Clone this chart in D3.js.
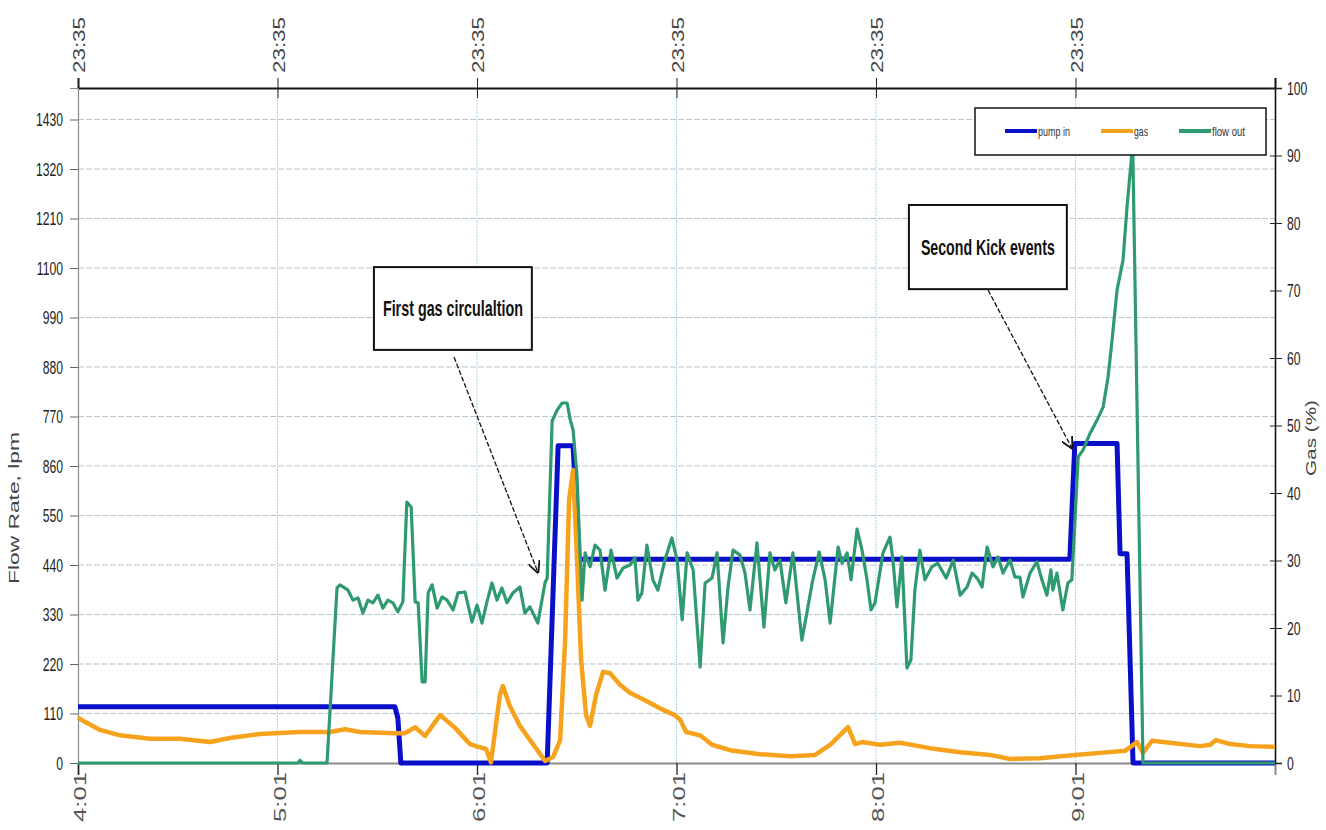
<!DOCTYPE html>
<html>
<head>
<meta charset="utf-8">
<script src="https://cdn.jsdelivr.net/npm/d3@7"></script>
<style>
  body { margin: 0; background: #fff; }
  svg { display: block; font-family: "Liberation Sans", Arial, sans-serif; }
</style>
</head>
<body>
<svg id="chart" width="1326" height="830"></svg>
<script>
// time is minutes after 4:01
const hourTicks = [0, 60, 120, 180, 240, 300];
const bottomLabels = ["4:01", "5:01", "6:01", "7:01", "8:01", "9:01"];
const topLabels = ["23:35", "23:35", "23:35", "23:35", "23:35", "23:35"];

const flowTicks = [0, 110, 220, 330, 440, 550, 660, 770, 880, 990, 1100, 1210, 1320, 1430];
const flowTickLabels = ["0", "110", "220", "330", "440", "550", "860", "770", "880", "990", "1100", "1210", "1320", "1430"];
const gasTicks = [0, 10, 20, 30, 40, 50, 60, 70, 80, 90, 100];

// pump in, lpm
const pumpT = [0, 95.3, 96.2, 97.1, 141.1, 144.4, 148.9, 150.7, 298.3, 299.8, 312.5, 313.4, 315.5, 317.3, 360];
const pumpV = [125, 125, 100, 0, 0, 705, 705, 453, 453, 710, 710, 465, 465, 0, 0];

// flow out, lpm
const flowT = [0, 66, 66.8, 67.6, 74.9, 77.9, 78.8, 81.2, 82.7, 84.2, 85.7, 87.2, 88.7, 90.2, 91.7, 93.2, 94.7,
  96.2, 97.7, 98.9, 100.2, 101.4, 102.3, 103.5, 104.4, 105.3, 106.5, 108.0, 109.5, 111.0, 112.8, 114.3, 116.4,
  118.5, 120.0, 121.5, 123.0, 124.5, 126.0, 127.5, 129.0, 130.8, 132.9, 134.4, 135.9, 138.3, 140.5, 141.1, 142.6,
  144.1, 145.6, 147.1, 148.0, 148.9, 150.1, 151.0, 151.6, 152.5, 154.0, 155.5, 157.0, 158.5, 160.3, 162.1, 163.9,
  166.0, 167.5, 168.4, 169.6, 171.1, 172.9, 174.4, 176.5, 178.6, 180.2, 181.7, 183.2, 185.0, 187.1, 188.6, 190.7,
  192.2, 194.0, 195.5, 197.0, 199.1, 200.6, 202.1, 204.2, 206.3, 208.1, 209.6, 211.1, 212.9, 215.0, 217.7, 219.2,
  220.8, 222.9, 224.7, 226.2, 228.6, 229.8, 231.3, 232.5, 234.3, 235.8, 237.3, 238.5, 239.7, 242.1, 244.2, 245.1,
  246.3, 247.8, 249.3, 250.5, 251.7, 253.2, 254.7, 256.8, 258.6, 261.1, 263.2, 265.3, 267.4, 268.9, 270.4, 271.9,
  273.4, 275.2, 276.7, 278.2, 280.3, 281.8, 283.3, 284.2, 286.3, 288.4, 289.9, 291.4, 292.6, 293.2, 294.4, 296.2,
  297.7, 298.9, 299.8, 300.8, 302.3, 304.4, 306.5, 308.3, 309.8, 311.0, 312.5, 314.3, 315.5, 317.2, 320.3, 360];
const flowV = [0, 0, 6, 0, 0, 389, 396, 384, 362, 367, 333, 362, 356, 373, 344, 362, 356,
  336, 358, 580, 569, 358, 356, 180, 180, 378, 396, 344, 369, 362, 340, 378, 380,
  313, 351, 311, 358, 400, 362, 389, 356, 378, 391, 333, 347, 311, 402, 410, 760,
  784, 800, 800, 764, 740, 636, 469, 362, 467, 436, 484, 473, 384, 473, 411, 433,
  440, 456, 362, 378, 484, 407, 384, 451, 500, 451, 318, 467, 429, 213, 400, 411,
  467, 267, 391, 473, 462, 422, 340, 489, 302, 467, 429, 451, 356, 467, 273, 333,
  400, 469, 407, 311, 480, 444, 467, 407, 520, 473, 407, 340, 356, 467, 502, 451,
  347, 458, 211, 229, 384, 473, 407, 436, 444, 411, 451, 373, 391, 422, 411, 391,
  480, 436, 458, 422, 451, 413, 413, 369, 422, 447, 407, 373, 429, 384, 422, 340,
  400, 407, 533, 680, 696, 733, 762, 791, 858, 940, 1051, 1118, 1236, 1375, 0, 0];

// gas, %
const gasT = [0, 2.1, 6.6, 12.6, 21.7, 30.7, 39.7, 45.7, 54.7, 66.8, 75.8, 80.3, 84.8, 95.3, 98.3, 101.4, 104.4,
  108.9, 113.4, 117.9, 120.3, 122.7, 124.2, 126.9, 127.8, 129.9, 132.9, 137.4, 140.5, 142.9, 145.0, 146.5, 147.7,
  148.9, 150.1, 151.3, 152.8, 154.0, 155.8, 157.9, 160.0, 163.0, 166.0, 170.5, 175.0, 179.5, 181.1, 182.9, 187.1,
  190.7, 196.1, 205.1, 214.1, 221.7, 226.2, 231.6, 233.7, 235.8, 241.2, 247.2, 256.2, 265.3, 274.3, 280.3, 289.3,
  299.8, 307.4, 314.9, 318.5, 320.3, 323.0, 328.4, 337.4, 340.5, 342.3, 346.5, 352.5, 360];
const gasV = [6.7, 6.1, 4.9, 4.1, 3.6, 3.6, 3.1, 3.7, 4.3, 4.6, 4.6, 5.0, 4.6, 4.4, 4.4, 5.3, 4.0,
  7.1, 5.2, 2.8, 2.4, 2.1, 0.1, 10.1, 11.4, 8.4, 5.5, 2.4, 0.3, 0.9, 3.4, 18.2, 39.0,
  43.4, 30.1, 15.3, 7.1, 5.5, 10.1, 13.5, 13.3, 11.6, 10.4, 9.3, 8.1, 7.1, 6.4, 4.6, 4.1,
  2.7, 1.9, 1.3, 1.0, 1.2, 2.7, 5.3, 2.8, 3.1, 2.7, 3.0, 2.2, 1.6, 1.2, 0.6, 0.7,
  1.2, 1.5, 1.8, 3.1, 1.5, 3.3, 3.0, 2.5, 2.7, 3.4, 2.8, 2.5, 2.4];

const seriesNames = ["pump in", "gas", "flow out"];
const seriesColors = ["#0a0fc8", "#f7a21c", "#2f9a6f"];

// annotations in data units (minutes, lpm)
const notes = [
  { text: "First gas circulaltion", box: [89.0, 136.5, 1102, 918], from: [113.1, 902], to: [138.3, 424], len: 140 },
  { text: "Second Kick events", box: [249.9, 297.4, 1240, 1053], from: [273.7, 1051], to: [298.9, 700], len: 134 }
];

const svg = d3.select("#chart");
const margin = { top: 88, right: 51, bottom: 67, left: 78 };
const width = 1326 - margin.left - margin.right;
const height = 830 - margin.top - margin.bottom;

const x = d3.scaleLinear().domain([0, 360]).range([0, width]);
const yL = d3.scaleLinear().domain([0, 1500]).range([height, 0]);
const yR = d3.scaleLinear().domain([0, 100]).range([height, 0]);

// squeeze text horizontally, like a narrow font
function condense(sel, k) {
  sel.each(function () {
    const t = d3.select(this);
    t.attr("x", (+t.attr("x") || 0) / k).attr("transform", "scale(" + k + ",1)");
  });
}

const g = svg.append("g").attr("transform", "translate(" + margin.left + "," + margin.top + ")");

// grid
g.append("g")
  .selectAll("line")
  .data(flowTicks.slice(1))
  .join("line")
  .attr("x1", 0).attr("x2", width)
  .attr("y1", d => yL(d)).attr("y2", d => yL(d))
  .attr("stroke", "#b8c6d2")
  .attr("stroke-width", 1.2)
  .attr("stroke-dasharray", "6,2");

g.append("g")
  .selectAll("line")
  .data(hourTicks.slice(1))
  .join("line")
  .attr("x1", d => x(d)).attr("x2", d => x(d))
  .attr("y1", 0).attr("y2", height)
  .attr("stroke", "#a9d6ee")
  .attr("stroke-width", 1)
  .attr("stroke-dasharray", "2,1");

// axes
const bottomAxis = g.append("g")
  .attr("transform", "translate(0," + height + ")")
  .call(d3.axisBottom(x).tickValues(hourTicks).tickSize(12).tickFormat((d, i) => bottomLabels[i]));
bottomAxis.select(".domain").attr("stroke", "#8a8a8a").attr("stroke-width", 2);
bottomAxis.selectAll(".tick line").attr("stroke", "#222").attr("stroke-width", 1.3);
bottomAxis.selectAll(".tick text")
  .attr("transform", "rotate(-90)")
  .attr("text-anchor", "end")
  .attr("x", -9).attr("y", 2).attr("dy", "0.35em")
  .attr("fill", "#555")
  .attr("textLength", 50)
  .attr("lengthAdjust", "spacingAndGlyphs")
  .style("font-size", "16px");

const topAxis = g.append("g")
  .call(d3.axisTop(x).tickValues(hourTicks).tickSize(10).tickFormat((d, i) => topLabels[i]));
topAxis.select(".domain").attr("stroke", "#111").attr("stroke-width", 2);
topAxis.selectAll(".tick line").attr("y2", -10).attr("y1", 10).attr("stroke", "#222");
topAxis.selectAll(".tick text")
  .attr("transform", "rotate(-90)")
  .attr("text-anchor", "start")
  .attr("x", 15).attr("y", 1).attr("dy", "0.35em")
  .attr("fill", "#444")
  .attr("textLength", 56)
  .attr("lengthAdjust", "spacingAndGlyphs")
  .style("font-size", "16px");

const leftAxis = g.append("g")
  .call(d3.axisLeft(yL).tickValues(flowTicks).tickSize(8).tickPadding(7).tickFormat((d, i) => flowTickLabels[i]));
leftAxis.select(".domain").attr("stroke", "#8a8a8a").attr("stroke-width", 1.2);
leftAxis.selectAll(".tick line").attr("stroke", "#666");
leftAxis.selectAll(".tick text")
  .attr("fill", "#222")
  .style("font-size", "19px")
  .call(condense, 0.64);

const rightAxis = g.append("g")
  .attr("transform", "translate(" + width + ",0)")
  .call(d3.axisRight(yR).tickValues(gasTicks).tickSize(7).tickPadding(5));
rightAxis.select(".domain").attr("stroke", "#111").attr("stroke-width", 1.6);
rightAxis.selectAll(".tick line").attr("x1", -5).attr("stroke", "#222");
rightAxis.selectAll(".tick text")
  .attr("fill", "#222")
  .style("font-size", "19px")
  .call(condense, 0.64);

// axis titles
svg.append("text")
  .attr("transform", "translate(19," + (margin.top + 420) + ") rotate(-90)")
  .attr("text-anchor", "middle")
  .attr("textLength", 152)
  .attr("lengthAdjust", "spacingAndGlyphs")
  .style("font-size", "15px")
  .attr("fill", "#444")
  .text("Flow Rate, lpm");

svg.append("text")
  .attr("transform", "translate(1316," + (margin.top + 350) + ") rotate(-90)")
  .attr("text-anchor", "middle")
  .attr("textLength", 76)
  .attr("lengthAdjust", "spacingAndGlyphs")
  .style("font-size", "15px")
  .attr("fill", "#444")
  .text("Gas (%)");

// series
const zip = (ts, vs) => ts.map((t, i) => [t, vs[i]]);
const lineL = d3.line().x(d => x(d[0])).y(d => yL(d[1]));
const lineR = d3.line().x(d => x(d[0])).y(d => yR(d[1]));

g.append("path")
  .datum(zip(pumpT, pumpV))
  .attr("fill", "none")
  .attr("stroke", seriesColors[0])
  .attr("stroke-width", 5)
  .attr("stroke-linejoin", "round")
  .attr("d", lineL);

g.append("path")
  .datum(zip(gasT, gasV))
  .attr("fill", "none")
  .attr("stroke", seriesColors[1])
  .attr("stroke-width", 4.5)
  .attr("stroke-linejoin", "round")
  .attr("d", lineR);

g.append("path")
  .datum(zip(flowT, flowV))
  .attr("fill", "none")
  .attr("stroke", seriesColors[2])
  .attr("stroke-width", 3.2)
  .attr("stroke-linejoin", "round")
  .attr("d", lineL);

// annotations
svg.append("defs").append("marker")
  .attr("id", "arrow")
  .attr("viewBox", "0 0 10 10")
  .attr("refX", 9).attr("refY", 5)
  .attr("markerWidth", 12).attr("markerHeight", 12)
  .attr("markerUnits", "userSpaceOnUse")
  .attr("orient", "auto")
  .append("path")
  .attr("d", "M0,0 L10,5 L0,10")
  .attr("fill", "none")
  .attr("stroke", "#111")
  .attr("stroke-width", 1.5);

const note = g.selectAll(".note").data(notes).join("g").attr("class", "note");
note.append("line")
  .attr("x1", d => x(d.from[0])).attr("y1", d => yL(d.from[1]))
  .attr("x2", d => x(d.to[0])).attr("y2", d => yL(d.to[1]))
  .attr("stroke", "#111")
  .attr("stroke-width", 1.3)
  .attr("stroke-dasharray", "5,2")
  .attr("marker-end", "url(#arrow)");
note.append("rect")
  .attr("x", d => x(d.box[0])).attr("y", d => yL(d.box[2]))
  .attr("width", d => x(d.box[1]) - x(d.box[0]))
  .attr("height", d => yL(d.box[3]) - yL(d.box[2]))
  .attr("fill", "#fff")
  .attr("stroke", "#111")
  .attr("stroke-width", 2);
note.append("text")
  .attr("x", d => (x(d.box[0]) + x(d.box[1])) / 2)
  .attr("y", d => (yL(d.box[2]) + yL(d.box[3])) / 2)
  .attr("dy", "0.35em")
  .attr("text-anchor", "middle")
  .attr("textLength", d => d.len)
  .attr("lengthAdjust", "spacingAndGlyphs")
  .style("font-size", "22px")
  .style("font-weight", "bold")
  .attr("fill", "#111")
  .text(d => d.text);

// legend
const legend = svg.append("g").attr("transform", "translate(975,108)");
legend.append("rect")
  .attr("width", 291).attr("height", 47)
  .attr("fill", "#fff")
  .attr("stroke", "#111")
  .attr("stroke-width", 1.5);
const item = legend.selectAll(".item").data(seriesNames).join("g")
  .attr("class", "item")
  .attr("transform", (d, i) => "translate(" + [30, 126, 204][i] + ",23)");
item.append("line")
  .attr("x1", 0).attr("x2", 32)
  .attr("stroke", (d, i) => seriesColors[i])
  .attr("stroke-width", 4);
item.append("text")
  .attr("x", 33).attr("dy", "0.35em")
  .attr("textLength", (d, i) => [32, 14, 33][i])
  .attr("lengthAdjust", "spacingAndGlyphs")
  .style("font-size", "13px")
  .attr("fill", "#333")
  .text(d => d);
</script>
</body>
</html>
